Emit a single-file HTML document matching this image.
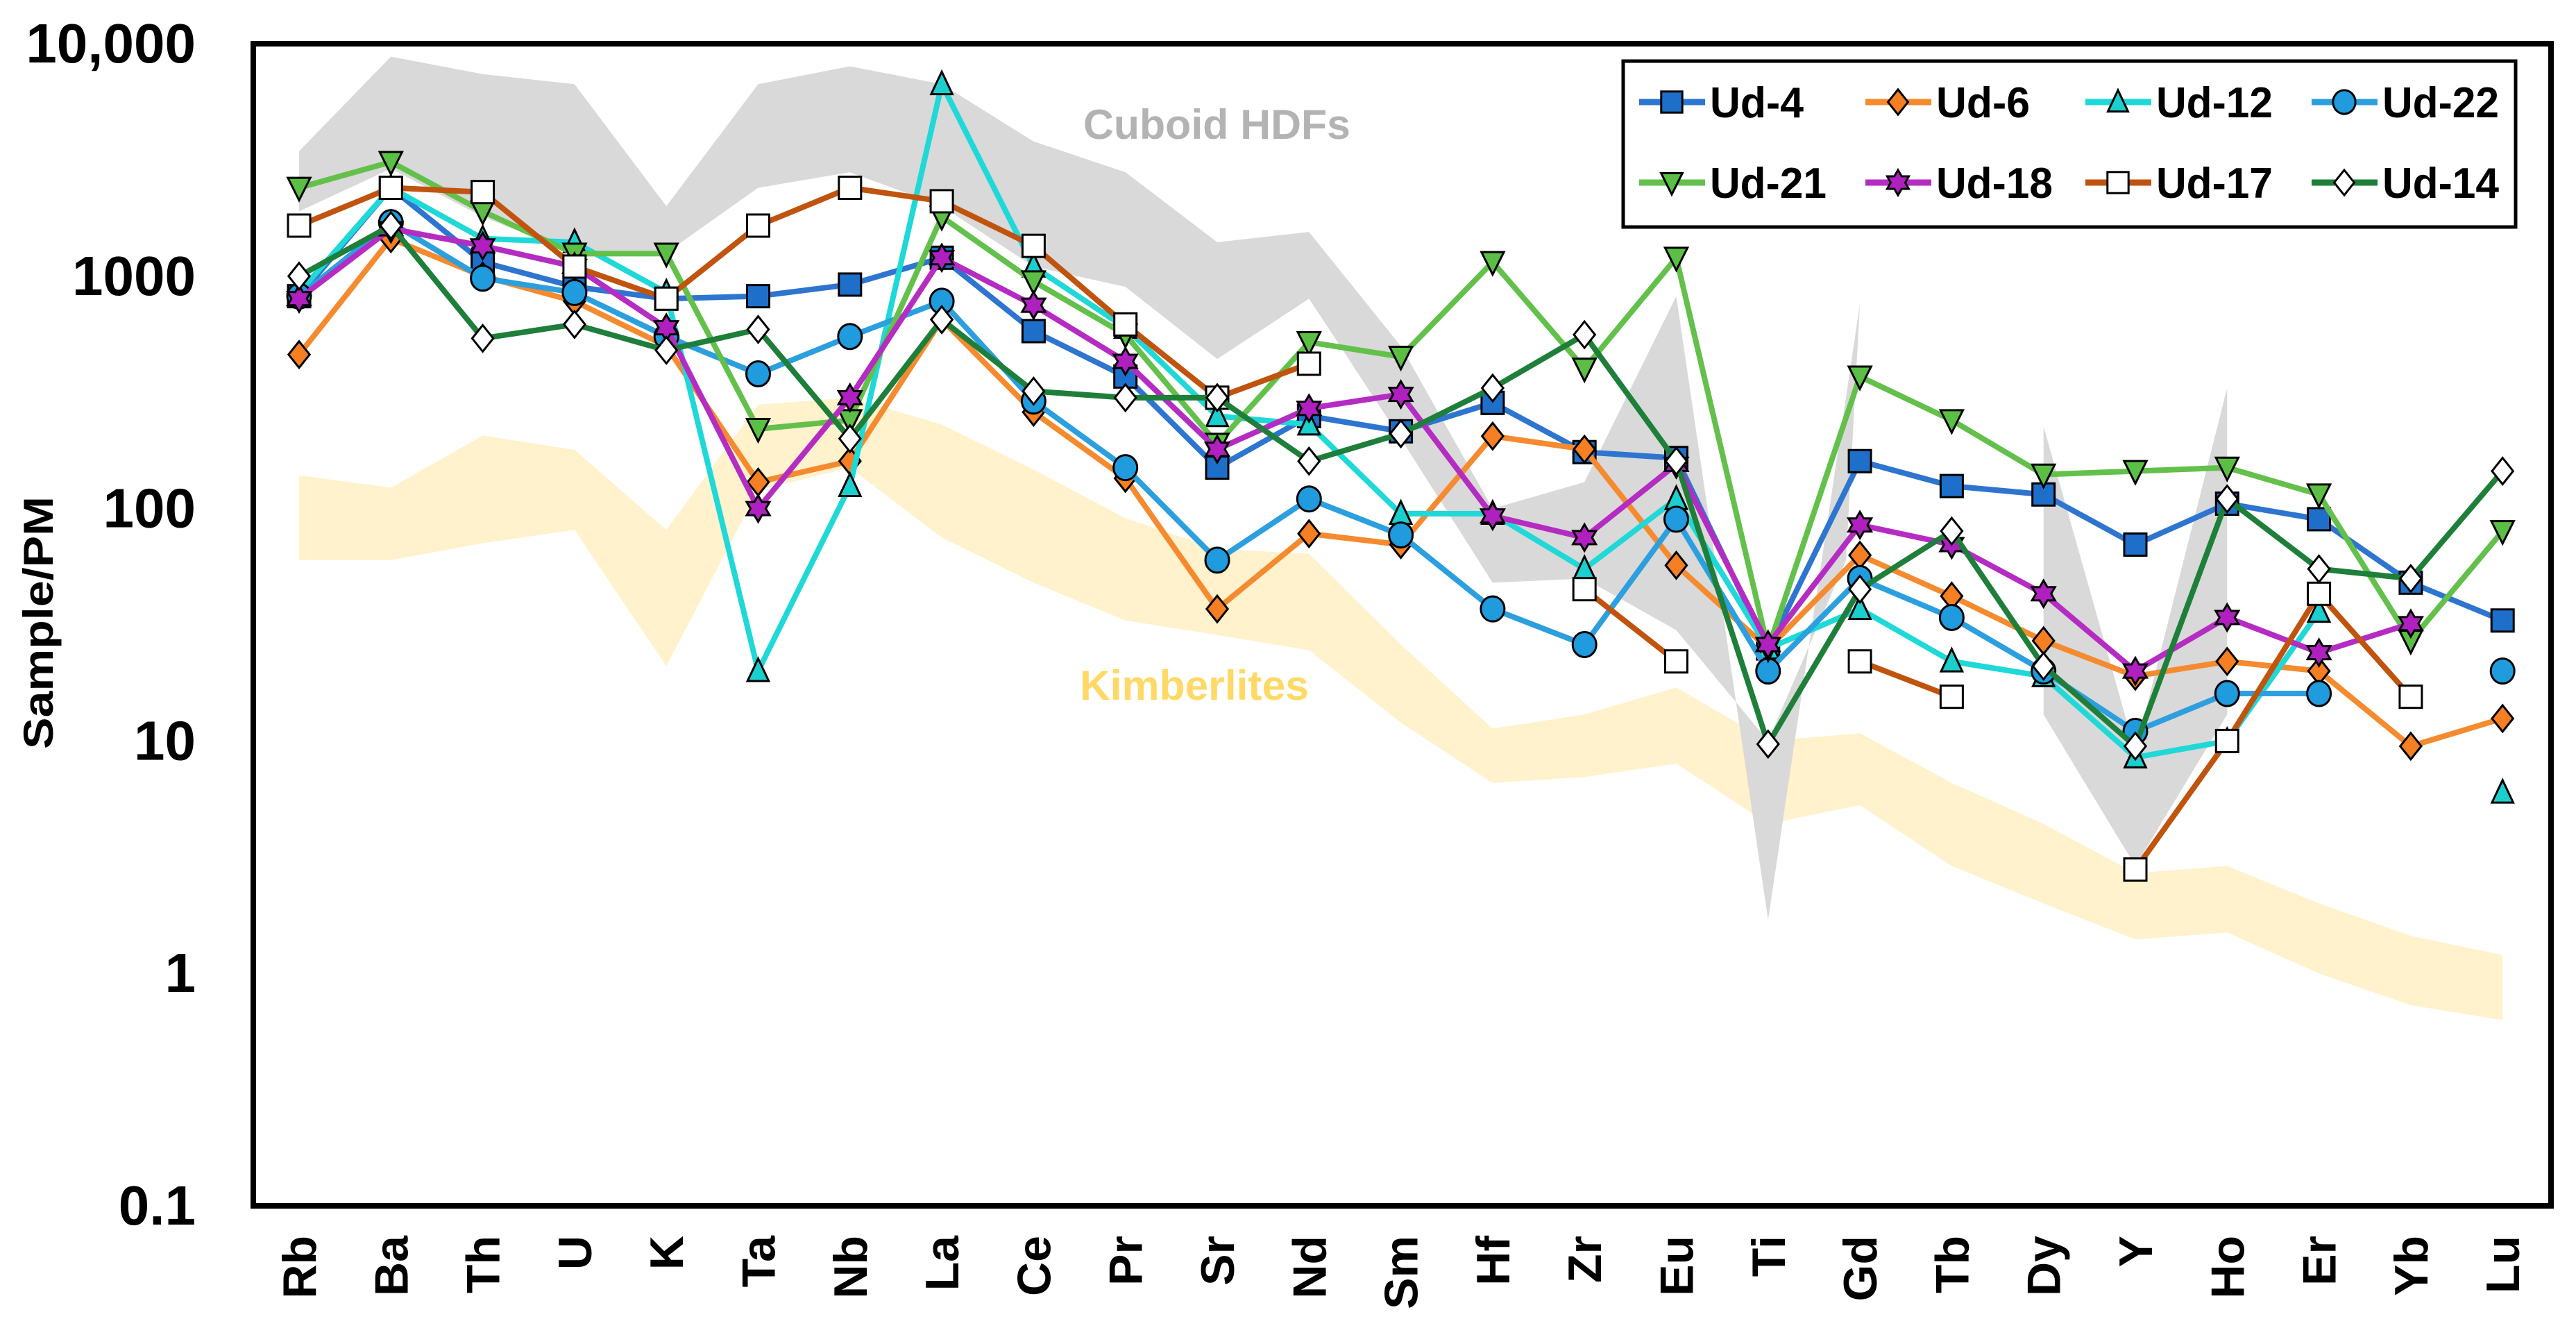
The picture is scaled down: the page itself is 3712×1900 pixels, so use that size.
<!DOCTYPE html>
<html><head><meta charset="utf-8"><style>
html,body{margin:0;padding:0;background:#fff;}
svg{display:block;font-family:"Liberation Sans",Arial,sans-serif;}
</style></head><body>
<svg id="chart" width="3712" height="1900" viewBox="0 0 3712 1900" xmlns="http://www.w3.org/2000/svg">
<g id="bands"></g>
<g id="series"></g>
<g id="axes"></g>
<g id="legend"></g>
</svg>
<script>
const categories = ["Rb","Ba","Th","U","K","Ta","Nb","La","Ce","Pr","Sr","Nd","Sm","Hf","Zr","Eu","Ti","Gd","Tb","Dy","Y","Ho","Er","Yb","Lu"];
const yTickValues = [10000,1000,100,10,1,0.1];
const yTickLabels = ["10,000","1000","100","10","1","0.1"];
const ud4  = [820,2400,1150,900,800,820,920,1200,580,370,150,250,215,285,175,165,25,160,125,115,70,105,90,48,33];
const ud6  = [460,1450,1000,780,500,130,160,650,260,135,37,78,70,205,180,57,25,63,42,27,19,22,20,9.5,12.5];
const ud12 = [850,2400,1450,1400,850,20,125,6700,1100,600,250,230,95,95,55,110,25,37,22,19,8.5,10,36,null,6];
const ud22 = [820,1700,980,850,550,380,550,780,290,150,60,110,77,37,26,90,20,50,34,20,11,16,16,null,20];
const ud21 = [2400,3100,1900,1250,1250,220,240,1800,950,560,190,520,450,1150,400,1200,25,370,240,140,145,150,115,27,80];
const ud18 = [800,1600,1350,1100,600,100,300,1200,750,430,180,270,310,93,75,155,26,85,70,43,20,34,24,32,null];
const ud17 = [1650,2400,2300,1100,800,1650,2400,2100,1350,620,300,420,null,null,45,22,null,22,15.5,null,2.8,10,43,15.5,null];
const ud14 = [1000,1650,540,620,480,590,200,650,320,300,300,160,210,330,560,160,9.7,45,80,21,9.5,110,55,50,145];
const kimbUpper = [139,123,206,179,81,280,300,230,147,91,67,64,26,11.3,13,17,10,10.8,6.6,4.4,2.7,2.9,2.0,1.45,1.2];
const kimbLower = [60,60,71,81,21,120,150,75,48,33,28.6,24.6,12,6.6,7,8,4.4,5.3,2.9,2.0,1.4,1.5,1.0,0.73,0.63];
const hdfUpper = [3450,8800,7400,6700,2000,6700,8000,6700,3800,2800,1400,1550,500,100,130,820];
const hdfLower = [1900,2900,1800,1260,1260,2400,2800,2000,1100,900,440,800,200,48,50,30];
const hdfSpikeTi = [1.7,10];
const hdfSpikeGd = [760,60];
const hdf2Dy = [226,13];
const hdf2Y = [2.9,9];
const hdf2Ho = [330,13];

const X0=431, DX=132.3, YTOP=63, DEC=334.8;
function xs(i){return X0+i*DX;}
function ys(v){return YTOP+(4-Math.log10(v))*DEC;}
const NS="http://www.w3.org/2000/svg";
function mk(tag,attrs,parent){const e=document.createElementNS(NS,tag);for(const k in attrs)e.setAttribute(k,attrs[k]);parent.appendChild(e);return e;}
const bands=document.getElementById('bands');
const ser=document.getElementById('series');
const axes=document.getElementById('axes');
const leg=document.getElementById('legend');

let pts=[];
kimbUpper.forEach((v,i)=>pts.push(xs(i)+','+ys(v)));
for(let i=kimbLower.length-1;i>=0;i--)pts.push(xs(i)+','+ys(kimbLower[i]));
let kb=mk('polygon',{points:pts.join(' '),fill:'#FFF2CC'},bands);



const iEu=15,iTi=16,iGd=17;
pts=[];
hdfUpper.forEach((v,i)=>pts.push(xs(i)+','+ys(v)));
pts.push(xs(iTi)+','+ys(hdfSpikeTi[0]));
pts.push(xs(iGd)+','+ys(hdfSpikeGd[0]));
pts.push((xs(iGd)-20)+','+ys(hdfSpikeGd[1]));
pts.push(xs(iTi)+','+ys(hdfSpikeTi[1]));
for(let i=hdfLower.length-1;i>=0;i--)pts.push(xs(i)+','+ys(hdfLower[i]));
let ga=mk('polygon',{points:pts.join(' '),fill:'#D9D9D9'},bands);


const iDy=19,iY=20,iHo=21;
pts=[xs(iDy)+','+ys(hdf2Dy[0]),xs(iDy)+','+ys(hdf2Dy[1]),xs(iY)+','+ys(hdf2Y[0]),xs(iHo)+','+ys(hdf2Ho[1]),xs(iHo)+','+ys(hdf2Ho[0]),xs(iY)+','+ys(hdf2Y[1])];
let gb=mk('polygon',{points:pts.join(' '),fill:'#D9D9D9'},bands);



let t=mk('text',{x:1561,y:200,'font-size':60,'font-weight':'bold',fill:'#B3B3B3',textLength:385,lengthAdjust:'spacingAndGlyphs'},bands);
t.textContent='Cuboid HDFs';


t=mk('text',{x:1556,y:1008,'font-size':60,'font-weight':'bold',fill:'#FFD966',textLength:330,lengthAdjust:'spacingAndGlyphs'},bands);
t.textContent='Kimberlites';



const seriesDefs=[
 {name:'Ud-4',data:ud4,line:'#2E75D0',fill:'#1E6FC9',m:'square'},
 {name:'Ud-6',data:ud6,line:'#F58A2E',fill:'#F57F22',m:'diamond'},
 {name:'Ud-12',data:ud12,line:'#1FD8D8',fill:'#1CCFCF',m:'triangle'},
 {name:'Ud-22',data:ud22,line:'#2C9FDF',fill:'#1F9BDE',m:'circle'},
 {name:'Ud-21',data:ud21,line:'#63C04B',fill:'#5CBF45',m:'tridown'},
 {name:'Ud-18',data:ud18,line:'#B52CC2',fill:'#B01FBF',m:'star'},
 {name:'Ud-17',data:ud17,line:'#C0540E',fill:'#FFFFFF',m:'square'},
 {name:'Ud-14',data:ud14,line:'#1E7F3A',fill:'#FFFFFF',m:'diamond'}
];
function marker(type,x,y,fill,parent,s){
  s=s||1;let e;
  const st={fill:fill,stroke:'#000','stroke-width':3};
  if(type==='square'){e=mk('rect',Object.assign({x:x-16*s,y:y-16*s,width:32*s,height:32*s},st),parent);}
  else if(type==='diamond'){const r=19*s;e=mk('polygon',Object.assign({points:`${x},${y-r} ${x+r*0.8},${y} ${x},${y+r} ${x-r*0.8},${y}`},st),parent);}
  else if(type==='circle'){e=mk('ellipse',Object.assign({cx:x,cy:y,rx:17*s,ry:18*s},st),parent);}
  else if(type==='triangle'){const r=18*s;e=mk('polygon',Object.assign({points:`${x},${y-r} ${x+r*0.85},${y+r*0.8} ${x-r*0.85},${y+r*0.8}`},st),parent);}
  else if(type==='tridown'){const r=18*s;e=mk('polygon',Object.assign({points:`${x},${y+r} ${x+r*0.9},${y-r*0.8} ${x-r*0.9},${y-r*0.8}`},st),parent);}
  else if(type==='star'){const r=19*s,r2=r*0.58;let p=[];for(let k=0;k<12;k++){const a=-Math.PI/2+k*Math.PI/6;const rr=k%2?r2:r;p.push((x+rr*Math.cos(a)).toFixed(1)+','+(y+rr*Math.sin(a)).toFixed(1));}e=mk('polygon',Object.assign({points:p.join(' ')},st),parent);}
  return e;
}
seriesDefs.forEach(sd=>{
  const g=mk('g',{},ser);
  
  
  let segs=[],cur=[];
  sd.data.forEach((v,i)=>{if(v==null){if(cur.length)segs.push(cur);cur=[];}else cur.push(xs(i)+','+ys(v));});
  if(cur.length)segs.push(cur);
  segs.forEach(sg=>{if(sg.length>1){const l=mk('polyline',{points:sg.join(' '),fill:'none',stroke:sd.line,'stroke-width':8,'stroke-linejoin':'round'},g);
    
    }});
  sd.data.forEach((v,i)=>{if(v==null)return;const m=marker(sd.m,xs(i),ys(v),sd.fill,g);
    
    });
});

let fr=mk('rect',{x:365,y:63,width:3311,height:1674,fill:'none',stroke:'#000','stroke-width':8},axes);


yTickValues.forEach((v,i)=>{const e=mk('text',{x:282,y:ys(v)+27,'font-size':80,'font-weight':'bold','text-anchor':'end',fill:'#000'},axes);
  e.textContent=yTickLabels[i];
  
  });
categories.forEach((c,i)=>{const e=mk('text',{x:0,y:0,'font-size':68,'font-weight':'bold','text-anchor':'end',fill:'#000',transform:`translate(${xs(i)+24},1780) rotate(-90)`},axes);
  e.textContent=c;
  
  });
let yt=mk('text',{x:0,y:0,'font-size':60,'font-weight':'bold','text-anchor':'middle',fill:'#000',textLength:364,lengthAdjust:'spacingAndGlyphs',transform:'translate(76,897) rotate(-90)'},axes);
yt.textContent='Sample/PM';



let lb=mk('rect',{x:2339,y:88,width:1286,height:239,fill:'#fff',stroke:'#000','stroke-width':5},leg);


const colX=[2362,2688,3005,3331], rowY=[147,263];
const txtW={'Ud-4':135,'Ud-6':135};
seriesDefs.forEach((sd,k)=>{
  const cx=colX[k%4], cy=rowY[Math.floor(k/4)];
  const g=mk('g',{},leg);
  
  
  mk('line',{x1:cx,y1:cy,x2:cx+95,y2:cy,stroke:sd.line,'stroke-width':9},g);
  marker(sd.m,cx+47,cy,sd.fill,g,0.95);
  const tx=mk('text',{x:cx+102,y:cy+22,'font-size':62,'font-weight':'bold',fill:'#000',textLength:txtW[sd.name]||168,lengthAdjust:'spacingAndGlyphs'},g);
  tx.textContent=sd.name;
});
</script>
</body></html>
